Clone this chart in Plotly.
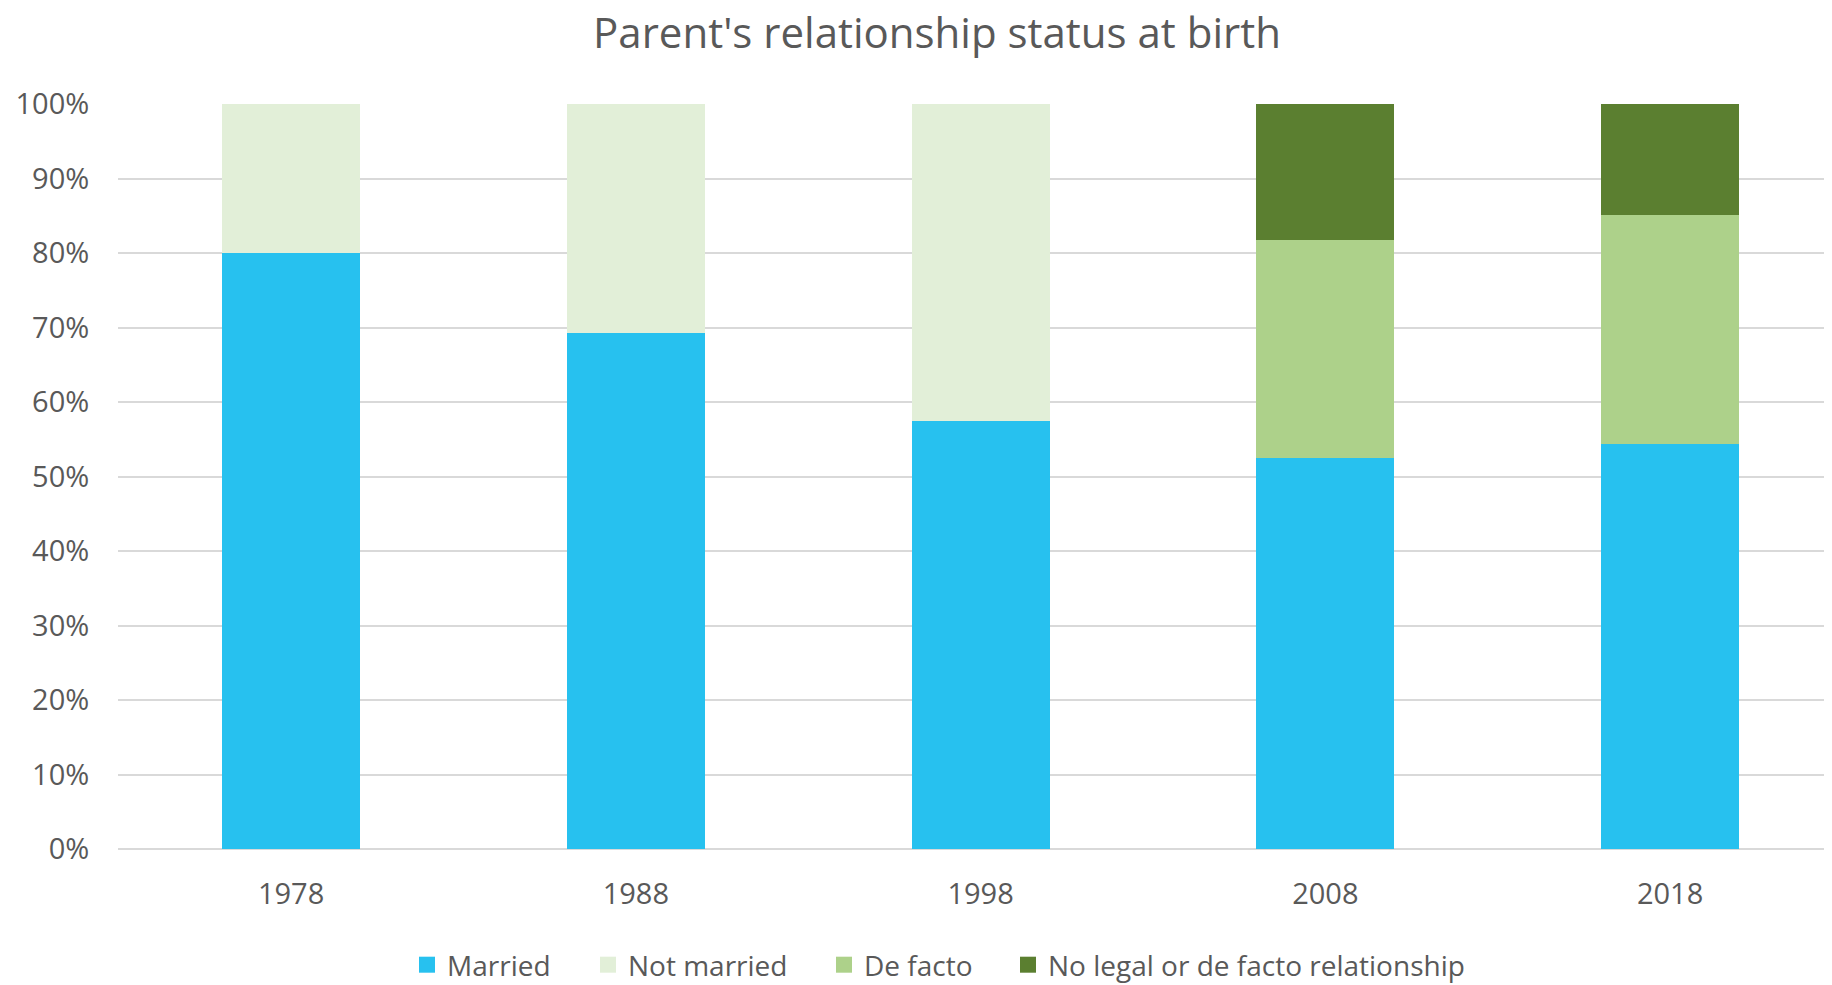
import plotly.graph_objects as go

years = ["1978", "1988", "1998", "2008", "2018"]
married = [0.800, 0.693, 0.574, 0.525, 0.543]
not_married = [0.200, 0.307, 0.426, None, None]
de_facto = [None, None, None, 0.293, 0.308]
no_legal = [None, None, None, 0.182, 0.149]
y_ticks = [i / 10 for i in range(11)]
y_tick_labels = [f"{i * 10}%" for i in range(11)]

series = [
    ("Married", married, "#27C1EF"),
    ("Not married", not_married, "#E2EFD8"),
    ("De facto", de_facto, "#ADD18A"),
    ("No legal or de facto relationship", no_legal, "#5B7F30"),
]
# left edges (figure px) of each legend entry
legend_left_px = [399, 580, 816, 1000]

FONT = "Open Sans"
GRAY = "#595959"

fig = go.Figure()
for name, vals, col in series:
    fig.add_trace(go.Bar(
        x=years, y=vals, name=name, marker_color=col,
        marker_line_width=0, width=0.4, showlegend=False,
    ))

legend_ids = ["legend", "legend2", "legend3", "legend4"]
for (name, vals, col), lid in zip(series, legend_ids):
    fig.add_trace(go.Scatter(
        x=[None], y=[None], mode="markers", name=name, legend=lid,
        marker=dict(symbol="square", size=16, color=col), showlegend=True,
    ))

layout_legends = {}
for lid, lx in zip(legend_ids, legend_left_px):
    layout_legends[lid] = dict(
        orientation="h", x=(lx - 110) / 1722, xanchor="left",
        y=-116 / 745, yanchor="middle", itemsizing="trace",
        font=dict(size=28, color=GRAY, family=FONT),
        itemwidth=30, bgcolor="rgba(0,0,0,0)",
    )

fig.update_layout(
    barmode="stack",
    width=1832, height=985,
    margin=dict(l=110, r=0, t=96, b=144, autoexpand=False),
    paper_bgcolor="white", plot_bgcolor="white",
    font=dict(family=FONT, color=GRAY, size=29),
    title=dict(
        text="Parent's relationship status at birth",
        x=929 / 1832, xanchor="center", xref="container",
        y=1 - 25 / 985, yanchor="middle", yref="container",
        font=dict(size=42, color=GRAY, family=FONT),
    ),
    showlegend=True,
    **layout_legends,
)
fig.update_xaxes(
    type="category", range=[-0.502, 4.493],
    showgrid=False, showline=False, zeroline=False,
    ticks="outside", ticklen=19, tickcolor="rgba(0,0,0,0)",
    tickfont=dict(size=29, color=GRAY, family=FONT),
)
fig.update_yaxes(
    range=[0, 1], tickvals=y_ticks, ticktext=y_tick_labels,
    showgrid=True, gridcolor="#D9D9D9", gridwidth=1.5,
    zeroline=True, zerolinecolor="#D9D9D9", zerolinewidth=1.5,
    ticks="outside", ticklen=22, tickcolor="rgba(0,0,0,0)",
    tickfont=dict(size=29, color=GRAY, family=FONT),
)

fig.write_html("out.html")
